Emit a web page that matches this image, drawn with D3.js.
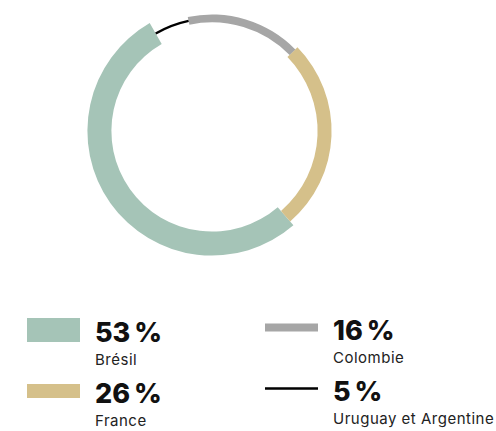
<!DOCTYPE html>
<html>
<head>
<meta charset="utf-8">
<script src="https://cdn.jsdelivr.net/npm/d3@7"></script>
<style>
  html, body { margin: 0; padding: 0; background: #fff; }
  svg { display: block; }
  .pct { font-family: Inter, 'Noto Sans', sans-serif; font-weight: 800; font-size: 27px; fill: #111; }
  .lbl { font-family: Inter, 'Noto Sans', sans-serif; font-weight: 400; font-size: 15px; letter-spacing: 0.5px; fill: #222; }
</style>
</head>
<body>
<div id="chart"></div>
<script>
// data
const countries = ['Brésil', 'France', 'Colombie', 'Uruguay et Argentine'];
const shares = [53, 26, 16, 5];

// styles
const colors = ['#a5c4b7', '#d5c08a', '#a6a6a6', '#000000'];
const thickness = [24, 14, 8, 2.5];

const width = 496, height = 431;
const svg = d3.select('#chart').append('svg')
  .attr('width', width)
  .attr('height', height);

const data = countries.map(function(c, i) {
  return {name: c, value: shares[i], color: colors[i], t: thickness[i]};
});

// ring, drawn counter-clockwise from the top-left
const cx = 212, cy = 131, r = 112.6;
const deg = Math.PI / 180;
const pie = d3.pie()
  .sort(null)
  .value(function(d) { return d.value; })
  .startAngle(330 * deg)
  .endAngle(-30 * deg);

const arc = d3.arc()
  .innerRadius(function(d) { return r - d.data.t / 2; })
  .outerRadius(function(d) { return r + d.data.t / 2; });

svg.append('g')
  .attr('transform', 'translate(' + cx + ',' + cy + ')')
  .selectAll('path')
  .data(pie(data))
  .enter().append('path')
  .attr('d', arc)
  .style('fill', function(d) { return d.data.color; });

// legend: two columns, two rows
const legX = d3.scaleOrdinal().domain([0, 1]).range([27, 265]);
const legY = d3.scaleOrdinal().domain([0, 1]).range([330, 391]);

const items = svg.append('g').selectAll('g')
  .data(data)
  .enter().append('g')
  .attr('transform', function(d, i) {
    const col = i < 2 ? 0 : 1;
    const row = i % 2;
    const dy = col === 1 ? -2.5 : 0;
    return 'translate(' + legX(col) + ',' + (legY(row) + dy) + ')';
  });

items.append('rect')
  .attr('x', 0)
  .attr('y', function(d) { return -d.t / 2; })
  .attr('width', 53)
  .attr('height', function(d) { return d.t; })
  .style('fill', function(d) { return d.color; });

items.append('text')
  .attr('class', 'pct')
  .attr('x', 68)
  .attr('y', 12)
  .text(function(d) { return d.value + '\u202F%'; });

items.append('text')
  .attr('class', 'lbl')
  .attr('x', 68)
  .attr('y', 35)
  .text(function(d) { return d.name; });
</script>
</body>
</html>
